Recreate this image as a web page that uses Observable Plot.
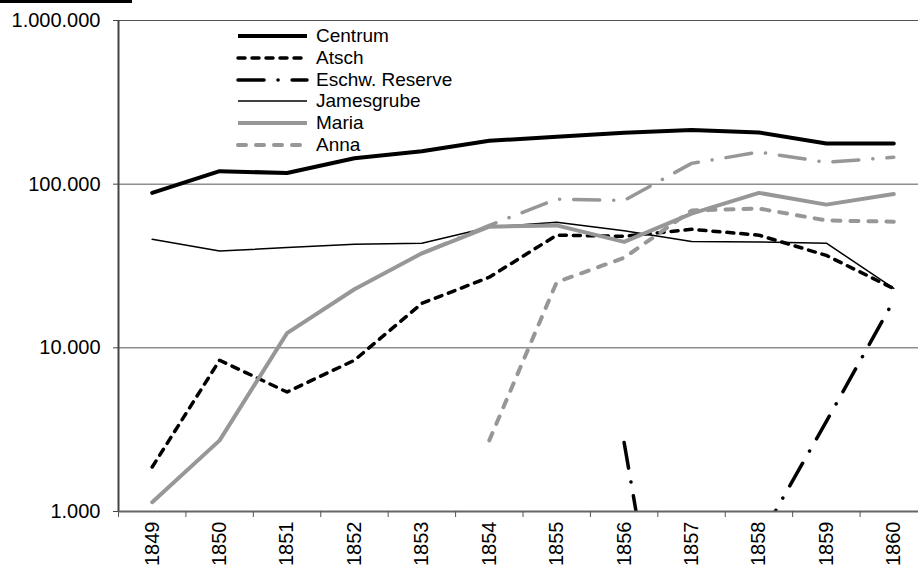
<!DOCTYPE html>
<html>
<head>
<meta charset="utf-8">
<script src="https://cdn.jsdelivr.net/npm/d3@7"></script>
<script src="https://cdn.jsdelivr.net/npm/@observablehq/plot@0.6"></script>
<style>
  html, body { margin: 0; padding: 0; background: #fff; overflow: hidden; width: 918px; height: 567px; }
  #wrap { position: relative; width: 918px; height: 567px; overflow: hidden; }
  #chart svg { max-width: none !important; }
  #topbar { position: absolute; left: 0; top: 0; width: 132px; height: 3px; background: #000; }
  #legend { position: absolute; left: 238px; top: 25px; font-family: "Liberation Sans", Arial, sans-serif; font-size: 19px; color: #000; }
  .row { display: flex; align-items: center; height: 21.8px; }
  .row svg { width: 70px; height: 22px; margin-right: 8px; overflow: visible; }
</style>
</head>
<body>
<div id="wrap">
  <div id="chart"></div>
  <div id="topbar"></div>
  <div id="legend"></div>
</div>
<script>
const years = [1849, 1850, 1851, 1852, 1853, 1854, 1855, 1856, 1857, 1858, 1859, 1860];
const seriesNames = ["Centrum", "Atsch", "Eschw. Reserve", "Jamesgrube", "Maria", "Anna"];
const centrum    = [88500, 120000, 117000, 144000, 159000, 184000, 195000, 206000, 214000, 207000, 177000, 177000];
const atsch      = [1870, 8400, 5370, 8400, 18700, 27000, 48800, 48000, 53000, 48800, 36700, 23000];
const eschw      = [null, null, null, null, null, null, null, 2640, 11, 670, 3550, 19500];
const jamesgrube = [46000, 39000, 41000, 43000, 43600, 54600, 58500, 52000, 44700, 44300, 43600, 23100];
const maria      = [1140, 2720, 12300, 22800, 37800, 55000, 56000, 44400, 66000, 88500, 75000, 87000];
const anna       = [null, null, null, null, null, 2720, 25200, 35500, 69000, 71000, 60000, 59000];
const unlabeled  = [null, null, null, null, 37800, 56000, 81000, 79500, 134000, 157000, 136000, 146000];
const yTicks = [1000, 10000, 100000, 1000000];
const gridValues = [10000, 100000, 1000000];
const xBounds = d3.range(1848.5, 1861, 1);

const gray = "#979797";
const styles = {
  "Centrum":        {stroke: "#000", strokeWidth: 4, dash: null},
  "Atsch":          {stroke: "#000", strokeWidth: 3.5, dash: "7,7"},
  "Eschw. Reserve": {stroke: "#000", strokeWidth: 3.5, dash: "26,14,0.1,14"},
  "Jamesgrube":     {stroke: "#000", strokeWidth: 1.5, dash: null},
  "Maria":          {stroke: gray, strokeWidth: 4, dash: null},
  "Anna":           {stroke: gray, strokeWidth: 4, dash: "8,10"}
};
const dataByName = {"Centrum": centrum, "Atsch": atsch, "Eschw. Reserve": eschw, "Jamesgrube": jamesgrube, "Maria": maria, "Anna": anna};

const fmt = d => d3.format(",")(d).replace(/,/g, ".");

const lineMarks = seriesNames.map(name => {
  const s = styles[name];
  return Plot.lineY(dataByName[name], {x: years, stroke: s.stroke, strokeWidth: s.strokeWidth, strokeDasharray: s.dash, clip: true});
});
lineMarks.push(Plot.lineY(unlabeled, {x: years, stroke: gray, strokeWidth: 3.5, strokeDasharray: "26,14,0.1,14", clip: true}));

const chart = Plot.plot({
  width: 927,
  height: 567,
  marginLeft: 118,
  marginRight: 0,
  marginTop: 20,
  marginBottom: 56,
  style: {fontFamily: "'Liberation Sans', Arial, sans-serif", background: "#fff", color: "#000", overflow: "visible", maxWidth: "none"},
  x: {type: "linear", domain: [1848.5, 1860.5], axis: null},
  y: {type: "log", domain: [1000, 1000000], axis: null},
  marks: [
    Plot.ruleY(gridValues, {stroke: "#555", strokeWidth: 1}),
    ...lineMarks,
    Plot.ruleX([1848.5], {stroke: "#444", strokeWidth: 2}),
    Plot.ruleY([1000], {stroke: "#666", strokeWidth: 2}),
    Plot.axisY(yTicks, {tickSize: 5, tickPadding: 13, tickFormat: fmt, fontSize: 20, stroke: "#444"}),
    Plot.axisX(xBounds, {tickSize: 6, tickFormat: () => "", stroke: "#555"}),
    Plot.axisX(years, {tickSize: 0, tickPadding: 10, tickRotate: -90, tickFormat: d => String(d), fontSize: 20})
  ]
});
document.getElementById("chart").appendChild(chart);

// legend
const legend = d3.select("#legend");
seriesNames.forEach(name => {
  const s = styles[name];
  const row = legend.append("div").attr("class", "row");
  const svg = row.append("svg");
  svg.append("line").attr("x1", 0).attr("x2", 69).attr("y1", 11).attr("y2", 11)
    .attr("stroke", s.stroke).attr("stroke-width", s.strokeWidth)
    .attr("stroke-dasharray", s.dash).attr("stroke-linecap", s.dash ? "round" : "butt");
  row.append("span").text(name);
});
</script>
</body>
</html>
